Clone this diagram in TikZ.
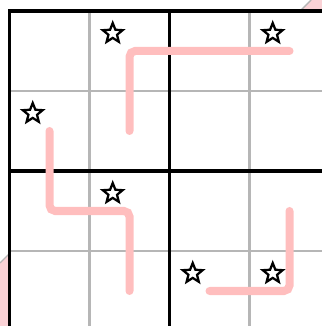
\documentclass[tikz,border=0pt]{standalone}
\usepackage{tikz}
\usetikzlibrary{shapes.geometric}
\definecolor{linepink}{RGB}{255,190,190}
\definecolor{cornerpink}{RGB}{250,210,214}
\definecolor{gridgray}{RGB}{182,182,182}

\begin{document}
\begin{tikzpicture}[x=1cm, y=1cm,
  cell line/.style={gridgray, line width=0.75pt},
  box line/.style={black, line width=1.1pt},
  pink path/.style={linepink, line width=2.85pt, line cap=round, rounded corners=2pt},
  star mark/.style={star, star points=5, star point ratio=2.3, draw=black, fill=white,
    line width=0.8pt, minimum size=0.26cm, inner sep=0pt}]
  \clip (-0.119,0.0625) rectangle (3.906,4.1375);
  % corner marks outside the box
  \fill[cornerpink] (3.631,4) -- (3.769,4.1375) -- (3.906,4.1375) -- (3.906,4) -- cycle;
  \draw[gridgray, line width=0.5pt] (3.631,4) -- (3.769,4.1375);
  \fill[cornerpink] (-0.119,0.85) -- (0,0.969) -- (0,0.0625) -- (-0.119,0.0625) -- cycle;
  \draw[gridgray, line width=0.5pt] (-0.119,0.85) -- (0,0.969);
  % grid
  \draw[cell line] (1,0) -- (1,4);
  \draw[cell line] (3,0) -- (3,4);
  \draw[cell line] (0,1) -- (4,1);
  \draw[cell line] (0,3) -- (4,3);
  \draw[box line] (0,0) rectangle (4,4);
  \draw[box line] (2,0) -- (2,4);
  \draw[box line] (0,2) -- (4,2);
  % cell centres for the lines
  \coordinate (c12) at (1.5,3.5);
  \coordinate (c14) at (3.5,3.5);
  \coordinate (c21) at (0.5,2.5);
  \coordinate (c22) at (1.5,2.5);
  \coordinate (c31) at (0.5,1.5);
  \coordinate (c32) at (1.5,1.5);
  \coordinate (c34) at (3.5,1.5);
  \coordinate (c42) at (1.5,0.5);
  \coordinate (c43) at (2.5,0.5);
  \coordinate (c44) at (3.5,0.5);
  \draw[pink path] (c22) -- (c12) -- (c14);
  \draw[pink path] (c21) -- (c31) -- (c32) -- (c42);
  \draw[pink path] (c34) -- (c44) -- (c43);
  % stars
  \node[star mark] (s12) at (1.29,3.72) {};
  \node[star mark] (s14) at (3.29,3.72) {};
  \node[star mark] (s21) at (0.29,2.72) {};
  \node[star mark] (s32) at (1.29,1.72) {};
  \node[star mark] (s43) at (2.29,0.72) {};
  \node[star mark] (s44) at (3.29,0.72) {};
\end{tikzpicture}
\end{document}
